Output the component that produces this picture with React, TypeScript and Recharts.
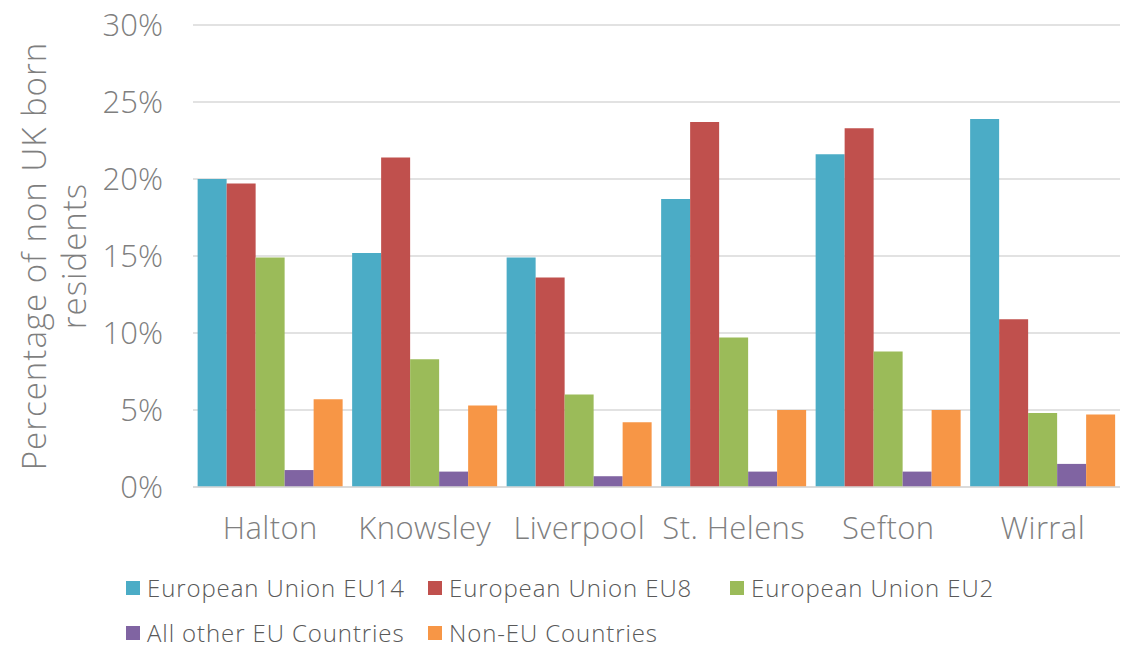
import { BarChart, Bar, XAxis, YAxis, CartesianGrid } from "recharts";

const areas = ["Halton", "Knowsley", "Liverpool", "St. Helens", "Sefton", "Wirral"];
const eu14 = [20.0, 15.2, 14.9, 18.7, 21.6, 23.9];
const eu8 = [19.7, 21.4, 13.6, 23.7, 23.3, 10.9];
const eu2 = [14.9, 8.3, 6.0, 9.7, 8.8, 4.8];
const otherEu = [1.1, 1.0, 0.7, 1.0, 1.0, 1.5];
const nonEu = [5.7, 5.3, 4.2, 5.0, 5.0, 4.7];
const yTicks = [0, 5, 10, 15, 20, 25, 30];

const SERIES = [
  { key: "eu14", name: "European Union EU14", color: "#4BACC6" },
  { key: "eu8", name: "European Union EU8", color: "#C0504D" },
  { key: "eu2", name: "European Union EU2", color: "#9BBB59" },
  { key: "other", name: "All other EU Countries", color: "#8064A2" },
  { key: "nonEu", name: "Non-EU Countries", color: "#F79646" },
];

const data = areas.map((area, i) => ({
  area,
  eu14: eu14[i],
  eu8: eu8[i],
  eu2: eu2[i],
  other: otherEu[i],
  nonEu: nonEu[i],
}));

const FONT = "'Open Sans', Lato, sans-serif";
const AXIS_TEXT = "#7F7F7F";

function YLabel() {
  const common = {
    textAnchor: "middle" as const,
    fontSize: 33,
    fill: AXIS_TEXT,
    fontFamily: FONT,
    fontWeight: 300,
    letterSpacing: 1,
  };
  return (
    <g transform="translate(0, 256) rotate(-90)">
      <text x={0} y={46} {...common}>
        Percentage of non UK born
      </text>
      <text x={0} y={86} {...common}>
        residents
      </text>
    </g>
  );
}

function LegendItem({ name, color, left, top }: { name: string; color: string; left: number; top: number }) {
  return (
    <div
      style={{
        position: "absolute",
        left,
        top,
        height: 24,
        display: "flex",
        alignItems: "center",
        whiteSpace: "nowrap",
      }}
    >
      <span style={{ width: 14, height: 14, background: color, display: "inline-block", marginRight: 7 }} />
      <span
        style={{
          fontSize: 24,
          lineHeight: "24px",
          letterSpacing: 0.9,
          color: "#595959",
          fontFamily: FONT,
          fontWeight: 300,
        }}
      >
        {name}
      </span>
    </div>
  );
}

const legendPos = [
  { left: 126, top: 576 },
  { left: 428, top: 576 },
  { left: 730, top: 576 },
  { left: 126, top: 621 },
  { left: 428, top: 621 },
];

export default function App() {
  return (
    <div style={{ position: "absolute", left: 0, top: 0, width: 1127, height: 649, background: "#fff" }}>
      <BarChart
        width={1127}
        height={649}
        data={data}
        margin={{ top: 25, right: 7, bottom: 92, left: 0 }}
        barCategoryGap="3%"
        barGap={0}
      >
        <CartesianGrid vertical={false} stroke="#D9D9D9" strokeWidth={1.5} />
        <XAxis
          dataKey="area"
          tickLine={false}
          axisLine={{ stroke: "#D9D9D9", strokeWidth: 1.5 }}
          tick={{ fontSize: 31, fill: AXIS_TEXT, fontFamily: FONT, fontWeight: 300, letterSpacing: 0.4 }}
          tickMargin={24}
          height={70}
        />
        <YAxis
          width={193}
          domain={[0, 30]}
          ticks={yTicks}
          tickFormatter={(v: number) => `${v}%`}
          tickLine={false}
          axisLine={false}
          tickSize={0}
          tickMargin={30}
          tick={{ fontSize: 31, fill: AXIS_TEXT, fontFamily: FONT, fontWeight: 300 }}
          label={<YLabel />}
        />
        {SERIES.map((s) => (
          <Bar key={s.key} dataKey={s.key} name={s.name} fill={s.color} isAnimationActive={false} />
        ))}
      </BarChart>
      {SERIES.map((s, i) => (
        <LegendItem key={s.key} name={s.name} color={s.color} left={legendPos[i].left} top={legendPos[i].top} />
      ))}
    </div>
  );
}
